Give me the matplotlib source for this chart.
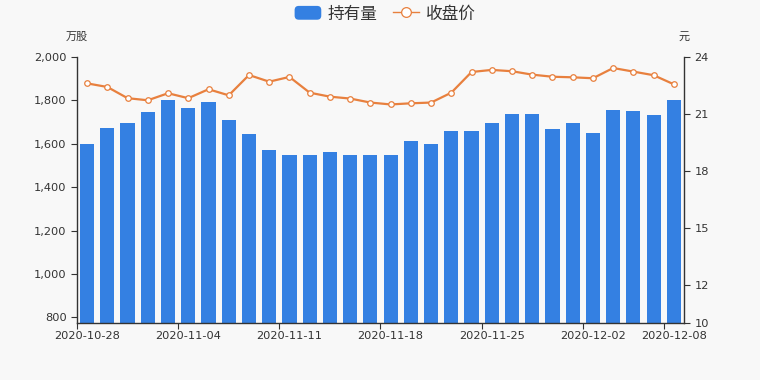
import matplotlib
matplotlib.use('Agg')
import matplotlib.pyplot as plt
from matplotlib.patches import FancyBboxPatch
from matplotlib.lines import Line2D
from matplotlib.legend_handler import HandlerPatch
from matplotlib.ticker import FuncFormatter, FixedLocator
import numpy as np

plt.rcParams['font.family'] = ['DejaVu Sans', 'Noto Sans CJK SC']

dates = ['2020-10-28', '2020-10-29', '2020-10-30', '2020-11-02', '2020-11-03',
         '2020-11-04', '2020-11-05', '2020-11-06', '2020-11-09', '2020-11-10',
         '2020-11-11', '2020-11-12', '2020-11-13', '2020-11-16', '2020-11-17',
         '2020-11-18', '2020-11-19', '2020-11-20', '2020-11-23', '2020-11-24',
         '2020-11-25', '2020-11-26', '2020-11-27', '2020-11-30', '2020-12-01',
         '2020-12-02', '2020-12-03', '2020-12-04', '2020-12-07', '2020-12-08']
holdings = [1597, 1671, 1697, 1746, 1801, 1763, 1792, 1711, 1646, 1572,
            1546, 1546, 1560, 1549, 1546, 1548, 1614, 1598, 1658, 1660,
            1694, 1737, 1737, 1668, 1697, 1649, 1755, 1751, 1732, 1800]
close = [22.61, 22.42, 21.83, 21.72, 22.09, 21.83, 22.30, 21.98, 23.05, 22.70,
         22.95, 22.12, 21.91, 21.81, 21.60, 21.50, 21.56, 21.60, 22.12, 23.21,
         23.32, 23.25, 23.07, 22.96, 22.93, 22.88, 23.42, 23.23, 23.04, 22.56]
label_idx = [0, 5, 10, 15, 20, 25, 29]

bar_color = '#3480e2'
line_color = '#e8803e'
text_color = '#333333'
bg = '#f8f8f8'

fig = plt.figure(figsize=(7.6, 3.8), dpi=100, facecolor=bg)
ax = fig.add_axes([0.1013, 0.1508, 0.7987, 0.6992])
ax.set_facecolor(bg)
x = np.arange(len(dates))
ax.bar(x, holdings, width=0.7, color=bar_color, zorder=2)
ax.set_xlim(-0.5, len(dates) - 0.5)
ax.set_ylim(775, 2000)
ax.set_yticks(range(800, 2001, 200))
ax.yaxis.set_major_formatter(FuncFormatter(lambda v, p: f'{int(v):,}'))

# tick marks at band edges, labels at band centers
ax.xaxis.set_major_locator(FixedLocator([i - 0.5 for i in label_idx]))
ax.xaxis.set_minor_locator(FixedLocator(label_idx))
ax.set_xticklabels([], minor=False)
ax.set_xticklabels([dates[i] for i in label_idx], minor=True)
ax.tick_params(axis='x', which='major', length=4, color=text_color)
ax.tick_params(axis='x', which='minor', length=0, pad=6, labelsize=8.2, labelcolor=text_color)
ax.tick_params(axis='y', length=4, labelsize=8.2, labelcolor=text_color, color=text_color)

ax2 = ax.twinx()
ax2.plot(x, close, color=line_color, lw=1.6, marker='o', ms=4.0,
         mfc='white', mec=line_color, mew=0.9, zorder=3)
ax2.set_ylim(10, 24)
ax2.set_yticks([10, 12, 15, 18, 21, 24])
ax2.tick_params(axis='y', length=4, labelsize=8.2, labelcolor=text_color, color=text_color)

for a in (ax, ax2):
    a.spines['top'].set_visible(False)
    for s in ('left', 'right', 'bottom'):
        a.spines[s].set_color(text_color)
        a.spines[s].set_linewidth(1.0)
ax.spines['right'].set_visible(False)
ax2.spines['left'].set_visible(False)
ax2.spines['bottom'].set_visible(False)

fig.text(0.101, 0.903, '万股', fontsize=8, color=text_color, ha='center',
         va='center', family=['Noto Sans CJK SC'])
fig.text(0.900, 0.903, '元', fontsize=8, color=text_color, ha='center',
         va='center', family=['Noto Sans CJK SC'])


class HandlerRound(HandlerPatch):
    def create_artists(self, legend, orig_handle, xdescent, ydescent,
                       width, height, fontsize, trans):
        p = FancyBboxPatch((-xdescent, -ydescent), width, height,
                           boxstyle='round,pad=0,rounding_size=3',
                           facecolor=bar_color, edgecolor='none',
                           transform=trans)
        return [p]


bar_handle = FancyBboxPatch((0, 0), 1, 1, facecolor=bar_color)
line_handle = Line2D([], [], color=line_color, lw=1.0, marker='o', ms=7,
                     mfc='white', mec=line_color, mew=0.9)
fig.legend([bar_handle, line_handle], ['持有量', '收盘价'],
           handler_map={FancyBboxPatch: HandlerRound()},
           loc='center', bbox_to_anchor=(0.507, 0.963), ncol=2, frameon=False,
           prop={'family': ['Noto Sans CJK SC'], 'size': 12},
           handlelength=1.6, handleheight=0.9, handletextpad=0.4,
           columnspacing=0.9, labelcolor=text_color)

fig.savefig('out.png', dpi=100, facecolor=bg)
